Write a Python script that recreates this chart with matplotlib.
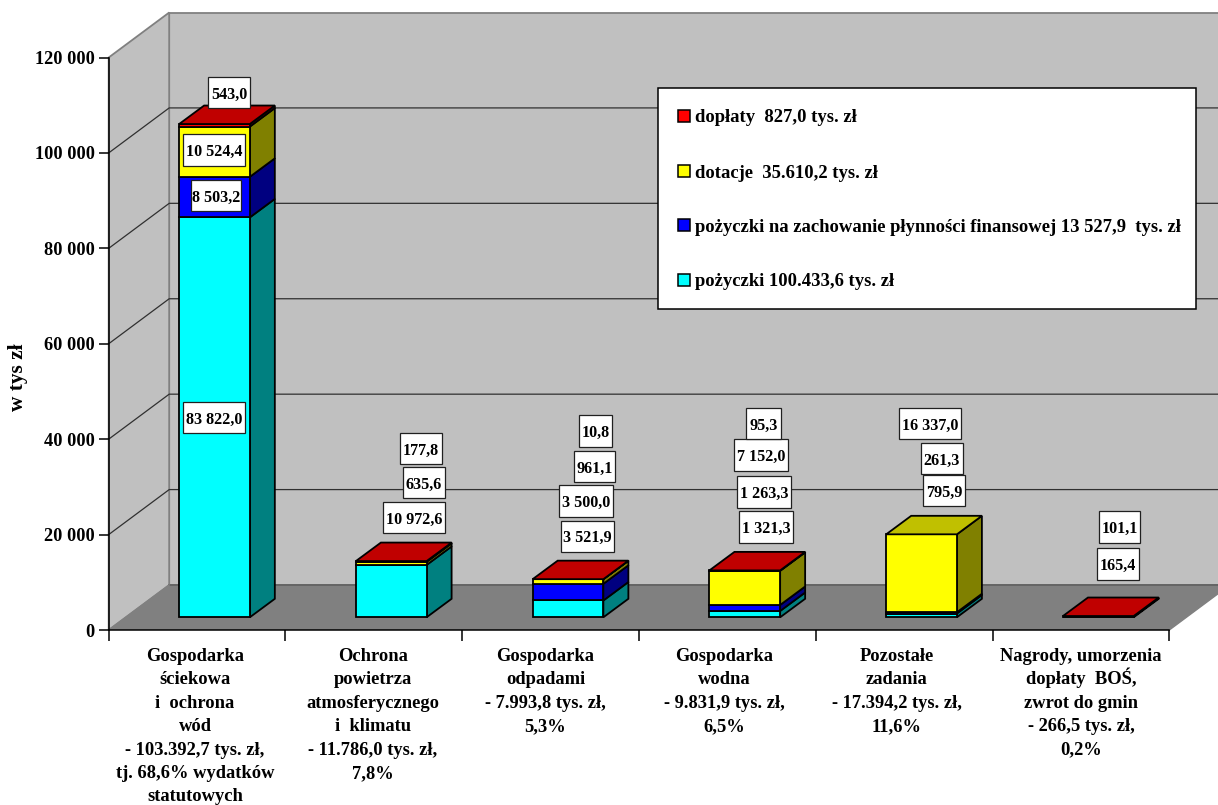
import matplotlib
matplotlib.use("Agg")
import matplotlib.pyplot as plt
from matplotlib.patches import Polygon, Rectangle

W, H = 1218, 805

categories = [
    "Gospodarka\nściekowa\ni  ochrona\nwód\n- 103.392,7 tys. zł,\ntj. 68,6% wydatków\nstatutowych",
    "Ochrona\npowietrza\natmosferycznego\ni  klimatu\n- 11.786,0 tys. zł,\n7,8%",
    "Gospodarka\nodpadami\n- 7.993,8 tys. zł,\n5,3%",
    "Gospodarka\nwodna\n- 9.831,9 tys. zł,\n6,5%",
    "Pozostałe\nzadania\n- 17.394,2 tys. zł,\n11,6%",
    "Nagrody, umorzenia\ndopłaty  BOŚ,\nzwrot do gmin\n- 266,5 tys. zł,\n0,2%",
]
pozyczki = [83822.0, 10972.6, 3521.9, 1321.3, 795.9, 165.4]
plynnosc = [8503.2, 0, 3500.0, 1263.3, 261.3, 0]
dotacje = [10524.4, 635.6, 961.1, 7152.0, 16337.0, 0]
doplaty = [543.0, 177.8, 10.8, 95.3, 0, 101.1]
legend_labels = [
    "dopłaty  827,0 tys. zł",
    "dotacje  35.610,2 tys. zł",
    "pożyczki na zachowanie płynności finansowej 13 527,9  tys. zł",
    "pożyczki 100.433,6 tys. zł",
]
yticks = [0, 20000, 40000, 60000, 80000, 100000, 120000]

# front, side, top colours for each series, bottom to top
series = [pozyczki, plynnosc, dotacje, doplaty]
colors = [
    ("#00FFFF", "#008080", "#00C0C0"),
    ("#0000FF", "#000080", "#0000C0"),
    ("#FFFF00", "#808000", "#C0C000"),
    ("#FF0000", "#800000", "#C00000"),
]

# label boxes in picture pixels: x0, x1, y0, y1 (None = no label)
boxes = [
    [(183, 245, 402, 433), (191, 241, 180, 211), (183, 245, 134, 166), (208, 250, 77, 108)],
    [(383.5, 445, 502, 533), None, (403, 445, 467, 498), (400, 442, 433, 464)],
    [(560.5, 614, 520.5, 552), (559, 613, 485, 517), (573.5, 615, 451.5, 482.5), (579, 612, 415.5, 447)],
    [(739.5, 793, 511, 543), (737, 791, 476, 507.5), (734, 788, 439.5, 471), (746, 781, 408, 439)],
    [(923, 965, 475, 506.5), (920.5, 963, 443, 474.5), (899, 961, 408, 439.5), None],
    [(1097, 1139, 548, 579.5), None, None, (1098.7, 1140.3, 511.3, 543)],
]
cat_x = [195, 373, 545.5, 724, 897, 1081]

plt.rcParams["font.family"] = ["Liberation Serif", "DejaVu Serif"]
plt.rcParams["font.weight"] = "bold"
FS_VALUE = 11.6
FS_TICK = 13.2
FS_CAT = 13.3
FS_LEGEND = 13.4


def fx(x):
    return x / W


def fy(y):
    return 1 - y / H


fig = plt.figure(figsize=(W / 100, H / 100), dpi=100)
x0, x1, y0, y1 = 108.7, 1169.3, 630, 57.5
ax = fig.add_axes([fx(x0), fy(y0), (x1 - x0) / W, (y0 - y1) / H])
ax.set_xlim(0, 6)
ax.set_ylim(0, 120000)
ax.patch.set_visible(False)

# pixels to data units
ux = 6 / (x1 - x0)
uy = 120000 / (y0 - y1)
wall_dx, wall_dy = 60.5 * ux, 45 * uy
bar_dx, bar_dy = 25 * ux, 18.5 * uy
off_dx, off_dy = 17.4 * ux, 12.7 * uy
bar_w = 0.4
GRAY = "#808080"


def poly(pts, face, edge="black", lw=1.3, z=2):
    ax.add_patch(Polygon(pts, closed=True, facecolor=face, edgecolor=edge, linewidth=lw,
                         joinstyle="miter", clip_on=False, zorder=z))


# walls and floor
poly([(wall_dx, wall_dy), (7, wall_dy), (7, 120000 + wall_dy), (wall_dx, 120000 + wall_dy)], "#C0C0C0", GRAY, 1.3, 1)
poly([(0, 0), (wall_dx, wall_dy), (wall_dx, 120000 + wall_dy), (0, 120000)], "#C0C0C0", GRAY, 1.3, 1)
poly([(0, 0), (wall_dx, wall_dy), (7, wall_dy), (6 + wall_dx, wall_dy), (6, 0)], GRAY, "none", 0, 1)
ax.plot([wall_dx, 7], [wall_dy, wall_dy], color="#606060", lw=1.2, clip_on=False, zorder=1.2)
ax.plot([6, 6 + wall_dx], [0, wall_dy], color=GRAY, lw=1, clip_on=False, zorder=1.2)
ax.plot([0, wall_dx], [0, wall_dy], color=GRAY, lw=1, clip_on=False, zorder=1.2)
for t in yticks[1:-1]:
    ax.plot([0, wall_dx, 7], [t, t + wall_dy, t + wall_dy], color="#303030", lw=0.9,
            clip_on=False, zorder=1.3)

# stacked boxes
for i in range(len(categories)):
    left = i + 0.5 - bar_w / 2 + off_dx
    right = left + bar_w
    base = off_dy
    top_face = None
    for vals, (front, side, top) in zip(series, colors):
        v = vals[i]
        if v == 0:
            continue
        poly([(right, base), (right + bar_dx, base + bar_dy), (right + bar_dx, base + v + bar_dy), (right, base + v)],
             side, z=3)
        poly([(left, base), (right, base), (right, base + v), (left, base + v)], front, z=3)
        base += v
        top_face = top
    poly([(left, base), (right, base), (right + bar_dx, base + bar_dy), (left + bar_dx, base + bar_dy)],
         top_face, z=3)

# axes
for s in ["top", "right"]:
    ax.spines[s].set_visible(False)
ax.spines["left"].set_linewidth(1.1)
ax.spines["bottom"].set_linewidth(1.1)
ax.spines["left"].set_zorder(2.5)
ax.spines["bottom"].set_zorder(2.5)
ax.set_xticks(range(7))
ax.set_xticklabels([])
ax.tick_params(axis="x", length=8, width=1.1, direction="out")
ax.set_yticks(yticks)
ax.set_yticklabels([f"{t:,}".replace(",", " ") for t in yticks], fontsize=FS_TICK, fontweight="bold")
ax.tick_params(axis="y", length=7, width=1.1, direction="out", pad=3)

fig.text(fx(18), fy(377), "w tys zł", rotation=90, ha="center", va="center", fontsize=15.3)

for name, x in zip(categories, cat_x):
    for k, line in enumerate(name.split("\n")):
        fig.text(fx(x), fy(661 + 23.4 * k), line, ha="center", va="baseline", fontsize=FS_CAT)

# value labels
for i, row in enumerate(boxes):
    for vals, b in zip(series, row):
        if b is None:
            continue
        bx0, bx1, by0, by1 = b
        fig.add_artist(Rectangle((fx(bx0), fy(by1)), (bx1 - bx0) / W, (by1 - by0) / H, transform=fig.transFigure,
                                 facecolor="white", edgecolor="#202020", linewidth=0.9, zorder=5))
        txt = f"{vals[i]:,.1f}".replace(",", " ").replace(".", ",")
        fig.text(fx((bx0 + bx1) / 2), fy((by0 + by1) / 2), txt, ha="center", va="center_baseline",
                 fontsize=FS_VALUE, zorder=6)

# legend
fig.add_artist(Rectangle((fx(658), fy(309)), 538 / W, 221 / H, transform=fig.transFigure,
                         facecolor="white", edgecolor="black", linewidth=1.1, zorder=5))
for lab, (front, _, _), y in zip(legend_labels, colors[::-1], [116, 171, 225, 280]):
    fig.add_artist(Rectangle((fx(678), fy(y + 6)), 12 / W, 12 / H, transform=fig.transFigure,
                             facecolor=front, edgecolor="black", linewidth=1.1, zorder=6))
    fig.text(fx(695), fy(y), lab, ha="left", va="center_baseline", fontsize=FS_LEGEND, zorder=6)

fig.savefig("out.png", dpi=100, facecolor="white")
